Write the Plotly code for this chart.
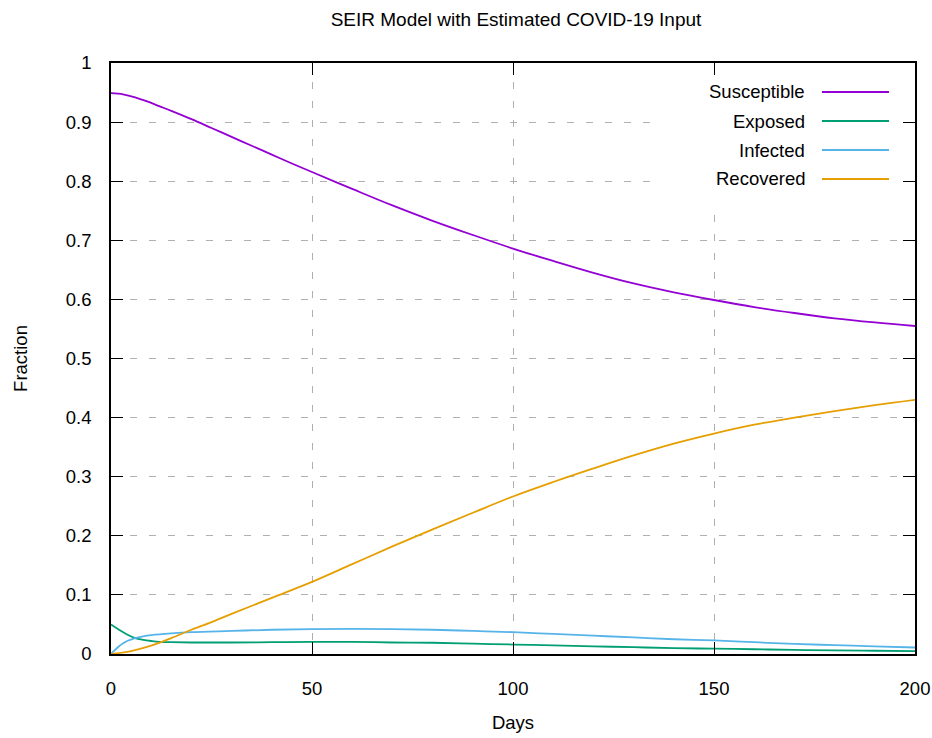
import plotly.graph_objects as go

# ---- data ----
days_s = [0, 3, 6, 9, 12, 15, 20, 25, 30, 35, 40, 45, 50, 60, 70, 80, 90, 100,
          110, 120, 130, 140, 150, 160, 170, 180, 190, 200]
susceptible = [0.949, 0.947, 0.942, 0.935, 0.927, 0.919, 0.905, 0.890, 0.875,
               0.860, 0.845, 0.830, 0.8155, 0.787, 0.759, 0.733, 0.709, 0.686,
               0.665, 0.645, 0.627, 0.612, 0.599, 0.587, 0.577, 0.568, 0.561, 0.555]

days_e = [0, 2, 4, 6, 8, 10, 12, 15, 20, 30, 40, 50, 60, 70, 80, 90, 100,
          110, 120, 130, 140, 150, 160, 170, 180, 190, 200]
exposed = [0.050, 0.041, 0.033, 0.027, 0.024, 0.022, 0.0205, 0.020, 0.0195,
           0.0195, 0.020, 0.0205, 0.0205, 0.0195, 0.019, 0.0175, 0.016, 0.0145,
           0.013, 0.0115, 0.010, 0.009, 0.008, 0.007, 0.006, 0.0055, 0.005]

days_i = [0, 1, 2, 3, 4, 6, 8, 10, 15, 20, 30, 40, 50, 60, 70, 80, 90, 100,
          110, 120, 130, 140, 150, 160, 170, 180, 190, 200]
infected = [0.0, 0.007, 0.013, 0.018, 0.022, 0.027, 0.030, 0.032, 0.035,
            0.037, 0.039, 0.041, 0.042, 0.0425, 0.042, 0.041, 0.039, 0.037,
            0.034, 0.031, 0.028, 0.025, 0.023, 0.020, 0.017, 0.015, 0.013, 0.011]

days_r = [0, 5, 10, 15, 20, 25, 30, 40, 50, 60, 70, 80, 90, 100, 110, 120,
          130, 140, 150, 160, 170, 180, 190, 200]
recovered = [0.0, 0.005, 0.014, 0.027, 0.041, 0.054, 0.068, 0.095, 0.122,
             0.152, 0.182, 0.211, 0.239, 0.2665, 0.291, 0.314, 0.336, 0.356,
             0.373, 0.388, 0.400, 0.411, 0.421, 0.430]

series_names = ["Susceptible", "Exposed", "Infected", "Recovered"]
colors = ["#9400d3", "#009e73", "#56b4e9", "#e69f00"]
x_ticks = [0, 50, 100, 150, 200]
y_ticks = [0, 0.1, 0.2, 0.3, 0.4, 0.5, 0.6, 0.7, 0.8, 0.9, 1]
y_tick_labels = ["0", "0.1", "0.2", "0.3", "0.4", "0.5", "0.6", "0.7", "0.8", "0.9", "1"]

W, H = 932, 738
ML, MR, MT, MB = 111, 17, 63, 84
PW, PH = W - ML - MR, H - MT - MB
FONT = "Liberation Sans, Arial, Helvetica, sans-serif"
FS = 18.5

def px(x):
    # page x pixel -> paper coordinate
    return (x - ML) / PW

def py(y):
    # page y pixel -> paper coordinate
    return (H - MB - y) / PH

fig = go.Figure()
for xs, ys, name, col in zip([days_s, days_e, days_i, days_r],
                             [susceptible, exposed, infected, recovered],
                             series_names, colors):
    fig.add_trace(go.Scatter(x=xs, y=ys, mode="lines", name=name,
                             line=dict(color=col, width=1.8, shape="spline", smoothing=1.0),
                             showlegend=False))

# legend (gnuplot style: text right, sample line at right, opaque box)
shapes = [dict(type="rect", xref="paper", yref="paper",
               x0=px(655), x1=px(902), y0=py(203), y1=py(76),
               fillcolor="white", line=dict(width=0), layer="above")]
annotations = []
rows = [92, 121, 150, 179]
for name, col, ry in zip(series_names, colors, rows):
    shapes.append(dict(type="line", xref="paper", yref="paper",
                       x0=px(822), x1=px(889), y0=py(ry), y1=py(ry),
                       line=dict(color=col, width=1.8), layer="above"))
    annotations.append(dict(text=name, xref="paper", yref="paper",
                            x=px(807), y=py(ry), xanchor="right", yanchor="middle",
                            showarrow=False, font=dict(size=FS, color="black", family=FONT)))

fig.update_layout(
    width=W, height=H,
    margin=dict(l=ML, r=MR, t=MT, b=MB, autoexpand=False),
    paper_bgcolor="white", plot_bgcolor="white",
    font=dict(family=FONT, size=FS, color="black"),
    title=dict(text="SEIR Model with Estimated COVID-19 Input", xref="container",
               x=516 / W, xanchor="center", yref="container",
               y=1 - 19 / H, yanchor="middle", font=dict(size=19, family=FONT)),
    shapes=shapes, annotations=annotations,
    xaxis=dict(range=[0, 200], tickvals=x_ticks, ticks="inside", ticklen=12, tickwidth=1.2,
               tickcolor="black", showline=True, linecolor="black", linewidth=1.5,
               mirror="ticks", showgrid=True, gridcolor="#b0b0b0", gridwidth=1,
               griddash="7px,12px", zeroline=False, ticklabelstandoff=17, automargin=False,
               title=dict(text="Days", standoff=18, font=dict(size=FS))),
    yaxis=dict(range=[0, 1], tickvals=y_ticks, ticktext=y_tick_labels, ticks="inside",
               ticklen=12, tickwidth=1.2, tickcolor="black", showline=True,
               linecolor="black", linewidth=1.5, mirror="ticks", showgrid=True,
               gridcolor="#b0b0b0", gridwidth=1, griddash="7px,12px", zeroline=False,
               ticklabelstandoff=14, automargin=False,
               title=dict(text="Fraction", standoff=33, font=dict(size=FS))),
)

# remove the default 8px page margin so the figure fills the window exactly
fig.write_html("out.html",
               config={"displayModeBar": False},
               post_script="document.body.style.margin='0';document.body.style.overflow='hidden';")
